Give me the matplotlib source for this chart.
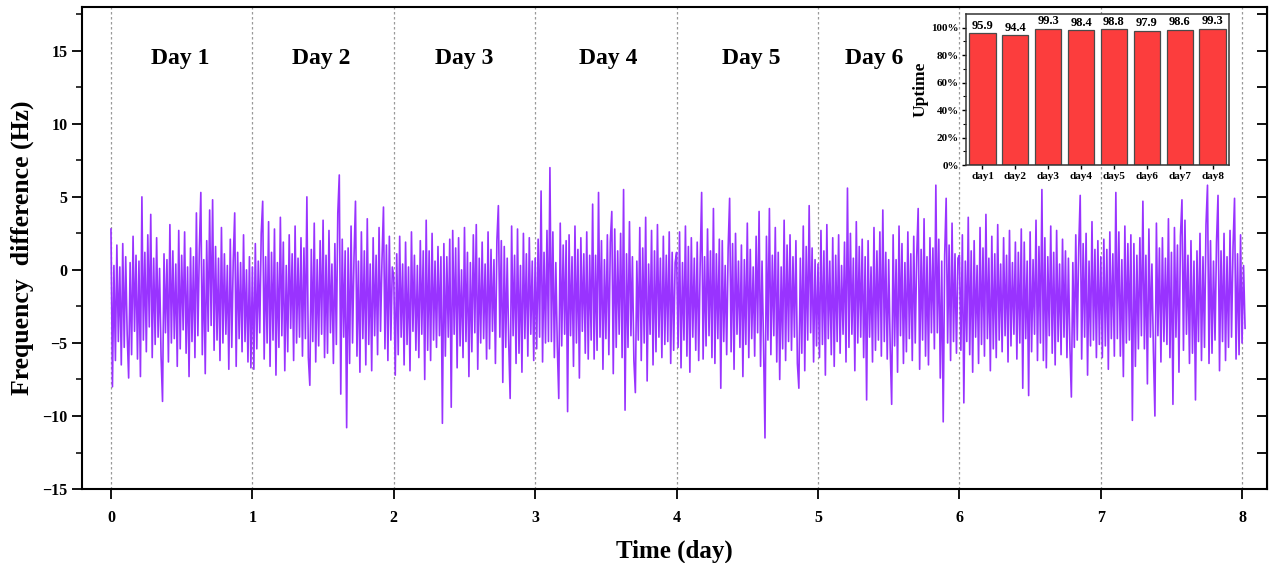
import matplotlib
matplotlib.use('Agg')
import matplotlib.pyplot as plt
import numpy as np


# ----------------------------------------------------------------------------------------
#                             DATA AREA

# frequency difference (Hz), one list per day
day1_hz = [2.8, -8.0, 0.3, -6.2, 1.7, -4.9, 0.2, -6.5, 1.8, -5.3,
           0.9, -4.4, -7.4, 0.5, -5.8, 2.3, -4.2, 1.0, -6.1, 0.6,
           -7.3, 5.0, -4.8, 1.2, -5.6, 2.4, -3.9, 3.8, -6.0, 0.8,
           -5.1, 2.2, -4.6, 0.1, -5.9, -9.0, 1.1, -4.3, 0.7, -6.3,
           3.1, -5.0, 1.3, -4.7, 0.4, -6.6, 2.7, -5.4, 1.0, -4.1,
           2.6, -5.7, 0.2, -7.3, 1.5, -4.9, 0.9, -6.0, 3.9, -4.5,
           1.4, 5.3, -5.8, 0.7, -7.1, 2.0, -4.2, 4.1, -3.8, 4.8,
           -5.5, 1.6, -4.8, 0.8, -6.2, 2.9, -5.0, 1.1, -4.4, 0.3,
           -6.8, 2.1, -5.3, 0.6, 3.9, -6.6, 1.2, -4.7, 0.5, -5.6,
           2.4, -4.9, 0.0, -6.3, 0.9, -6.7]
day2_hz = [0.2, -6.8, 1.8, -5.4, 0.6, -4.3, 2.5, 4.7, -6.1, 0.9,
           -5.0, 3.3, -6.6, 1.2, -4.8, 2.8, -7.2, 0.5, -5.3, 3.6,
           -4.5, 1.9, -6.9, 0.3, -5.6, 2.4, -4.0, 1.1, -6.2, 3.0,
           -5.0, 0.8, -4.6, 2.2, -5.9, 1.5, -4.7, 5.0, -6.0, -7.9,
           1.4, -4.9, 3.2, -6.3, 0.7, -5.2, 2.0, -4.4, 3.4, -6.0,
           1.0, -5.7, 2.7, -4.3, 0.4, -6.4, 1.8, -5.1, 3.9, 6.5,
           -8.5, 2.1, -4.6, 1.3, -10.8, 1.5, -6.4, 3.0, -5.0, 0.9,
           4.7, -5.9, 0.6, -7.0, 2.6, -4.7, 1.3, -6.5, 3.5, -5.1,
           0.4, -6.9, 2.2, -4.5, 1.0, -5.8, 2.9, -4.2, 0.7, 4.3,
           -5.4, 1.7, -6.2, 2.3, -4.8, 0.2]
day3_hz = [-0.5, -7.2, 1.1, -5.8, 2.3, -4.6, 0.4, -6.5, 1.9, -5.1,
           0.2, -6.9, 2.6, -4.2, 1.0, -5.5, 0.3, -6.0, 2.0, -4.4,
           1.3, -7.5, 3.4, -5.5, 1.3, -6.2, 2.5, -4.8, 0.6, -5.3,
           1.6, -4.5, 0.9, -10.5, 1.8, -5.9, 0.9, -4.6, 2.1, -9.4,
           2.7, -4.4, 1.5, -6.7, 2.2, -5.2, 0.0, -6.0, 2.9, -4.9,
           1.2, -7.3, 0.5, -5.6, 2.4, -4.3, 3.1, -6.8, 0.8, -5.0,
           1.9, -4.7, 0.4, -6.1, 2.6, -5.4, 1.4, -4.2, 0.7, -6.4,
           2.0, 4.4, -4.6, 2.0, -7.7, 1.6, -5.3, 0.8, -4.9, -8.8,
           3.0, -4.5, 1.0, -6.4, 2.8, -5.7, 0.3, -7.0, 2.5, -4.7,
           1.1, -5.9, 2.2, -4.4, 0.6, -6.2]
day4_hz = [0.8, -5.4, 2.1, -4.6, 5.4, -6.3, 1.2, -5.0, 2.7, -4.9,
           7.0, -4.9, 2.6, -6.0, 0.5, -5.2, -8.8, 3.2, -5.2, 1.7,
           -4.4, 2.0, -9.7, 2.4, -4.5, 0.9, -6.6, 3.0, -5.0, 1.4,
           -7.4, 2.2, -4.2, 1.1, -5.7, 2.6, -6.1, 1.0, -4.8, 4.5,
           -6.1, 1.0, -5.5, 5.3, -4.6, 2.0, -6.8, 0.7, -4.7, 2.4,
           -5.8, 1.9, 4.0, -7.1, 2.8, -5.3, 1.3, -4.4, 2.5, -6.0,
           5.5, -9.6, 1.1, -5.3, 3.3, -4.5, 0.9, -6.2, -8.4, 0.6,
           -4.8, 2.9, -6.2, 1.5, -5.0, 3.6, -7.6, 0.4, -4.4, 2.7,
           -6.5, 1.3, -5.6, 3.1, -4.6, 0.8, -6.0, 2.3, -5.1, 1.0,
           -4.9, 2.6, -6.4, 1.2, -5.5, 0.5]
day5_hz = [1.2, -5.3, 2.6, -6.7, 0.5, -4.8, 3.0, -5.9, 1.6, -7.0,
           2.2, -4.6, 0.8, -5.5, 1.9, -6.2, 0.4, 5.3, -6.1, 0.9,
           -5.2, 2.8, -4.5, 1.3, -6.0, 4.2, -6.4, 1.1, -4.7, 2.1,
           -8.1, 2.0, -4.9, 0.3, -5.8, 1.5, 4.9, -5.6, 1.8, -6.8,
           2.5, -4.4, 0.6, -5.3, 1.7, -7.3, 0.7, -5.1, 3.2, -6.0,
           1.4, -4.7, 0.2, -5.9, 2.3, -4.3, 4.0, -6.6, 0.6, -5.0,
           -11.5, 2.3, -4.8, 4.2, -5.8, 1.0, -4.5, 2.9, -6.3, 1.2,
           -7.5, 0.2, -5.4, 3.4, -6.2, 1.7, -4.9, 2.4, -5.5, 0.9,
           -4.6, 2.0, -6.4, -8.1, 0.8, -5.7, 3.0, -6.9, 1.6, -4.8,
           4.4, -4.3, 1.5, -6.3, 0.7, -5.2]
day6_hz = [0.4, -6.0, 2.7, -5.1, 1.3, -7.2, 3.1, -4.7, 0.6, -5.8,
           2.2, -6.6, 1.0, -4.9, 2.4, -5.7, 0.3, -4.4, 1.9, -6.3,
           5.6, -5.3, 2.5, -4.4, 0.8, -6.9, 3.3, -5.0, 1.6, -4.6,
           2.1, -6.0, 0.9, -8.9, 2.0, -4.6, 0.2, -6.3, 2.9, -5.5,
           1.3, -4.8, 2.6, -5.9, 4.1, -4.9, 1.2, -6.1, 0.7, -5.3,
           -9.2, 2.4, -5.2, 0.7, -7.0, 3.0, -4.5, 1.8, -6.4, 0.5,
           -5.6, 2.6, -4.7, 1.1, -6.2, 2.3, -5.0, 0.9, 4.2, -6.8,
           1.4, -4.8, 3.5, -5.9, 0.9, -6.5, 2.2, -4.3, 1.5, -5.4,
           5.8, -4.3, 2.1, -7.4, 0.6, -10.4, 1.0, 4.9, -5.0, 1.7,
           -6.2, 3.2, -4.9, 1.1, -5.7, 0.8]
day7_hz = [1.0, -5.5, 2.4, -9.1, 0.6, -4.9, 3.6, -5.8, 1.3, -7.0,
           2.0, -4.6, 0.3, -6.4, 2.9, -5.1, 1.5, -5.9, 3.8, -4.7,
           0.8, -6.9, 2.3, -5.4, 1.1, -6.0, 3.1, -4.8, 0.4, -5.6,
           2.2, -4.5, 1.0, -6.3, 2.7, -5.2, 0.5, -4.4, 1.9, -6.1,
           1.2, -5.0, 2.8, -8.1, 1.9, -4.7, 0.6, -8.6, 2.6, -5.6,
           0.7, -4.4, 3.4, -6.2, 1.6, -5.0, 5.5, -6.2, 2.2, -6.7,
           0.9, -4.5, 3.0, -5.7, 1.2, -6.5, 2.7, -4.9, 0.4, -5.8,
           2.1, -4.6, 1.3, -6.0, 0.8, -5.3, -8.7, 0.5, -5.3, 2.4,
           -4.8, 1.5, 5.1, -6.1, 1.8, -4.6, 2.5, -7.2, 0.6, -5.2,
           3.3, -4.8, 1.4, -6.0, 2.0, -5.1]
day8_hz = [0.9, -6.0, 2.1, -5.2, 1.4, -6.8, 2.6, -4.7, 1.1, -5.9,
           5.3, -4.7, 2.6, -5.9, 0.7, -7.3, 3.0, -5.0, 1.8, -4.8,
           2.4, -10.3, 1.8, -6.6, 1.0, -5.4, 2.2, -4.5, 4.7, -5.4,
           1.0, -7.8, 2.8, -4.6, 0.4, -5.6, -10.0, 3.2, -4.5, 1.5,
           -6.3, 2.2, -4.9, 0.8, -5.1, 3.5, -6.0, 1.2, -9.2, 2.9,
           -4.6, 1.7, -7.0, 2.3, 4.8, -5.5, 3.4, -4.4, 1.0, -6.4,
           2.0, -5.7, 0.6, -8.9, 1.3, -4.9, 2.5, -6.2, 0.9, -5.3,
           3.1, 5.8, -6.4, 2.0, -5.7, 0.6, -4.8, 1.9, 5.1, -6.9,
           1.3, -4.9, 2.5, -6.2, 0.9, -5.3, 2.7, -4.6, 1.6, 4.9,
           -6.1, 1.1, -5.8, 2.4, -5.0, 0.3, -4.0]
t_end = 8.02   # last sample (day)

day_labels = ['Day 1', 'Day 2', 'Day 3', 'Day 4', 'Day 5', 'Day 6']

# uptime inset
uptime_days = ['day1', 'day2', 'day3', 'day4', 'day5', 'day6', 'day7', 'day8']
uptime_pct  = [95.9, 94.4, 99.3, 98.4, 98.8, 97.9, 98.6, 99.3]


# ----------------------------------------------------------------------------------------
#                             PLOTTING AREA

plt.rcParams['font.family'] = 'Liberation Serif'
plt.rcParams['font.weight'] = 'bold'
plt.rcParams['axes.labelweight'] = 'bold'

line_color = '#9933FF'
bar_color  = '#FC3D3D'

fig = plt.figure(figsize=(12.79, 5.63), dpi=100)
ax = fig.add_axes([0.0641, 0.1314, 0.9265, 0.8562])

days = [day1_hz, day2_hz, day3_hz, day4_hz, day5_hz, day6_hz, day7_hz, day8_hz]
t_parts = []
for d, vals in enumerate(days):
    if d < len(days) - 1:
        t_parts.append(np.linspace(d, d + 1, len(vals), endpoint=False))
    else:
        t_parts.append(np.linspace(d, t_end, len(vals)))
t = np.concatenate(t_parts)
freq = np.concatenate(days)

# day separators
for d in range(9):
    ax.axvline(d, color='#9a9a9a', linestyle=(0, (2, 2)), linewidth=0.9, zorder=1)

ax.plot(t, freq, color=line_color, linewidth=1.2, zorder=2)

# day titles (Day 6 shifted left to clear the inset)
label_x = [0.49, 1.49, 2.5, 3.52, 4.53, 5.4]
for lx, txt in zip(label_x, day_labels):
    ax.text(lx, 14.45, txt, ha='center', va='center', fontsize=17, fontweight='bold')

ax.set_xlim(-0.205, 8.175)
ax.set_ylim(-15, 18)
ax.set_xticks(range(9))
ax.set_yticks([-15, -10, -5, 0, 5, 10, 15])
ax.set_yticks(np.arange(-12.5, 18, 5), minor=True)
ax.tick_params(axis='both', which='major', labelsize=11.5, width=1.3, length=7, direction='out')
ax.tick_params(axis='x', which='major', pad=8)
ax.tick_params(axis='y', which='minor', width=1.1, length=4, direction='out')
for lab in ax.get_xticklabels() + ax.get_yticklabels():
    lab.set_fontweight('bold')
for sp in ax.spines.values():
    sp.set_linewidth(1.5)

# right side ticks point inward
sec = ax.secondary_yaxis('right')
sec.set_yticks(np.arange(-15, 18, 2.5))
sec.tick_params(direction='in', length=7, width=1.3, labelright=False)

ax.set_xlabel('Time (day)', fontsize=18, fontweight='bold', labelpad=10)
ax.set_ylabel('Frequency  difference (Hz)', fontsize=18.5, fontweight='bold', labelpad=6)

# inset: uptime per day
axi = fig.add_axes([0.7553, 0.7069, 0.2056, 0.2682])
pos = np.arange(1, len(uptime_pct) + 1)
axi.bar(pos, uptime_pct, width=0.8, color=bar_color, edgecolor='#4a4a4a', linewidth=0.9)
for p, v in zip(pos, uptime_pct):
    axi.text(p, v + 1.0, f'{v:.1f}', ha='center', va='bottom', fontsize=9, fontweight='bold')
axi.set_xlim(0.5, 8.5)
axi.set_ylim(0, 110)
axi.set_xticks(pos)
axi.set_xticklabels(uptime_days)
axi.set_yticks(np.arange(0, 101, 20))
axi.set_yticklabels([f'{v}%' for v in range(0, 101, 20)])
axi.set_yticks(np.arange(10, 110, 20), minor=True)
axi.tick_params(axis='both', which='major', labelsize=8, length=3, width=1, pad=2)
axi.tick_params(axis='y', which='minor', length=2, width=0.8)
for lab in axi.get_xticklabels() + axi.get_yticklabels():
    lab.set_fontweight('bold')
for sp in axi.spines.values():
    sp.set_linewidth(1.1)
    sp.set_color('#333333')
axi.set_ylabel('Uptime', fontsize=12.5, fontweight='bold', labelpad=2)

fig.savefig('out.png', dpi=100)
